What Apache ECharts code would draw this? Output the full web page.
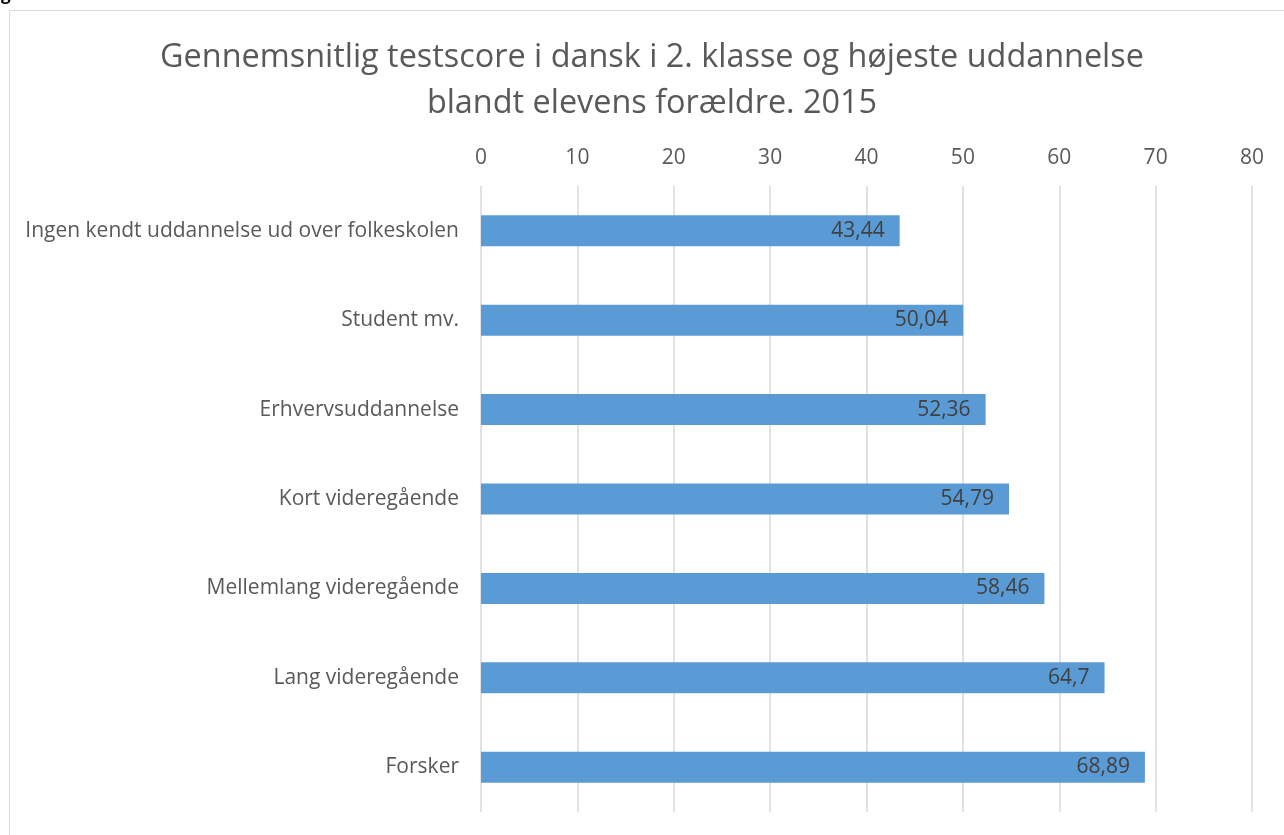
<!DOCTYPE html>
<html>
<head>
<meta charset="utf-8">
<script src="https://cdn.jsdelivr.net/npm/echarts@6/dist/echarts.min.js"></script>
<style>
  html, body { margin: 0; padding: 0; background: #fff; }
  #chart { width: 1284px; height: 835px; }
</style>
</head>
<body>
<div id="chart"></div>
<script>
// data
const categories = [
  'Ingen kendt uddannelse ud over folkeskolen',
  'Student mv.',
  'Erhvervsuddannelse',
  'Kort videregående',
  'Mellemlang videregående',
  'Lang videregående',
  'Forsker'
]
const scores = [43.44, 50.04, 52.36, 54.79, 58.46, 64.7, 68.89]
const titleLines = [
  'Gennemsnitlig testscore i dansk i 2. klasse og højeste uddannelse',
  'blandt elevens forældre. 2015'
]

const font = '"Open Sans", sans-serif'
const chart = echarts.init(document.getElementById('chart'))

chart.setOption({
  animation: false,
  textStyle: { fontFamily: font },
  title: {
    text: titleLines.join('\n'),
    left: 647,
    textAlign: 'center',
    top: 30,
    textStyle: { fontSize: 32.4, fontWeight: 'normal', color: '#595959', lineHeight: 46, fontFamily: font, align: 'center' }
  },
  graphic: [{
    type: 'rect',
    shape: { x: 9.5, y: 10.5, width: 1290, height: 840 },
    style: { fill: 'none', stroke: '#d9d9d9', lineWidth: 1 },
    silent: true
  }, {
    type: 'text',
    left: 1,
    top: -13,
    style: { text: 'g', fontSize: 17, fontWeight: 'bold', fill: '#000', fontFamily: font }
  }],
  grid: { left: 481, right: 32, top: 186, bottom: 23 },
  xAxis: {
    type: 'value',
    position: 'top',
    min: 0,
    max: 80,
    interval: 10,
    axisLine: { show: false },
    axisTick: { show: false },
    axisLabel: { fontSize: 21, color: '#595959', margin: 17 },
    splitLine: { lineStyle: { color: '#d9d9d9', width: 1.5 } }
  },
  yAxis: {
    type: 'category',
    inverse: true,
    data: categories,
    axisLine: { show: false },
    axisTick: { show: false },
    axisLabel: { fontSize: 21, color: '#595959', margin: 22 }
  },
  series: [{
    type: 'bar',
    data: scores,
    barWidth: 31,
    itemStyle: { color: '#5b9bd5' },
    label: {
      show: true,
      position: 'insideRight',
      distance: 15,
      fontSize: 21,
      color: '#404040',
      formatter: p => String(p.value).replace('.', ',')
    }
  }]
})
</script>
</body>
</html>
